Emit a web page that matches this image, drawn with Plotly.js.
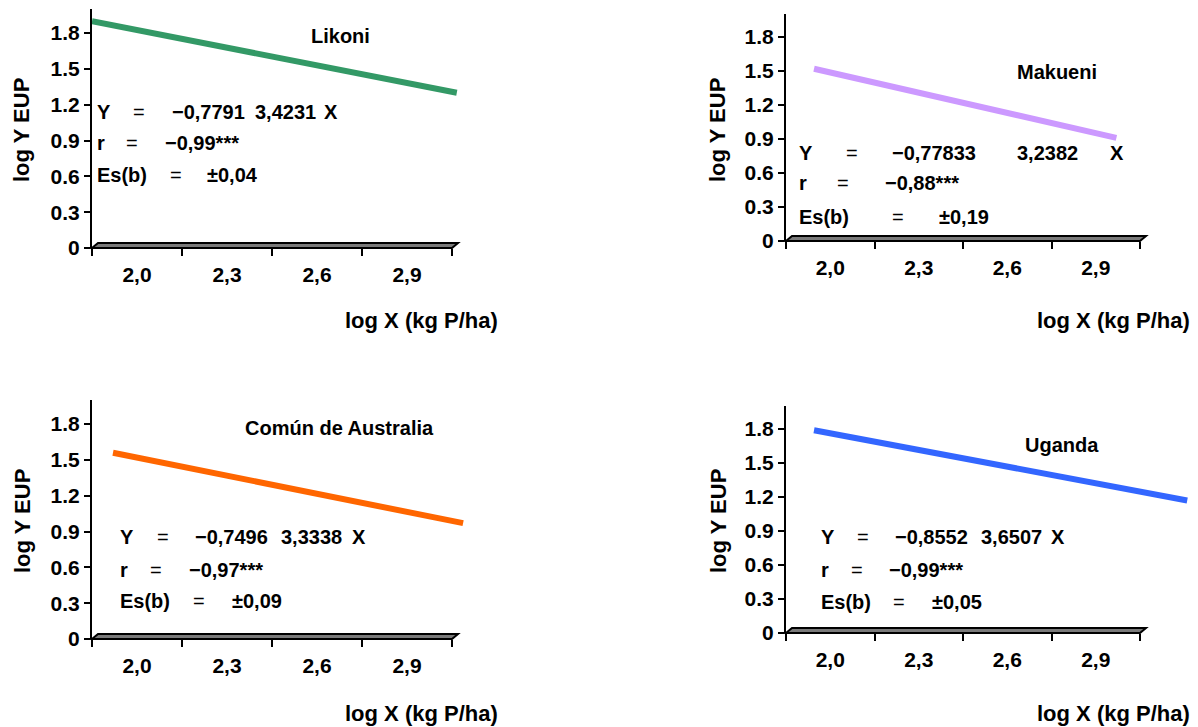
<!DOCTYPE html>
<html>
<head>
<meta charset="utf-8">
<script src="https://cdn.plot.ly/plotly-3.0.1.min.js"></script>
<style>html,body{margin:0;padding:0;background:#fff}#chart{width:1198px;height:727px}</style>
</head>
<body>
<div id="chart"></div>
<script>
// ---------- DATA ----------
const panelNames = ['Likoni', 'Makueni', 'Común de Australia', 'Uganda'];
const xTickVals = [2.0, 2.3, 2.6, 2.9];
const xTickText = ['2,0', '2,3', '2,6', '2,9'];
const xBounds = [1.85, 2.15, 2.45, 2.75, 3.05];
const yTickVals = [0, 0.3, 0.6, 0.9, 1.2, 1.5, 1.8];
const yTickText = ['0', '0.3', '0.6', '0.9', '1.2', '1.5', '1.8'];
const likoniX = [1.85, 3.066];
const likoniY = [1.90, 1.30];
const makueniX = [1.945, 2.97];
const makueniY = [1.52, 0.91];
const comunX = [1.92, 3.087];
const comunY = [1.56, 0.97];
const ugandaX = [1.945, 3.21];
const ugandaY = [1.79, 1.17];
const eqIntercept = ['−0,7791', '−0,77833', '−0,7496', '−0,8552'];
const eqSlope = ['3,4231', '3,2382', '3,3338', '3,6507'];
const rValues = ['−0,99***', '−0,88***', '−0,97***', '−0,99***'];
const esValues = ['±0,04', '±0,19', '±0,09', '±0,05'];
const xTitle = 'log X (kg P/ha)';
const yTitle = 'log Y EUP';

// ---------- STYLE / LAYOUT ----------
const W = 1198, H = 727;
const px = v => v / W;
const py = v => 1 - v / H;
const FONT = 'Liberation Sans, Arial, sans-serif';
const colors = ['#339966', '#cc99ff', '#ff6600', '#3366ff'];
const lineXs = [likoniX, makueniX, comunX, ugandaX];
const lineYs = [likoniY, makueniY, comunY, ugandaY];
const geom = [
  {x0: 92,  zeroY: 248, pxX: 300, pxY: 119.4},
  {x0: 786, zeroY: 241, pxX: 295, pxY: 113.3},
  {x0: 92,  zeroY: 639, pxX: 300, pxY: 119.4},
  {x0: 786, zeroY: 633, pxX: 295, pxY: 113.3}
];
const yMax = 2.0;
const textPos = [
  {title: [341, 36], Y: [95, 112], eqY: 139, inter: 170, slope: 253, X: 322,
   r: [95, 143], eqR: 132, rv: 163, es: [95, 175], eqE: 176, ev: 205, xt: [421, 320], yt: [22, 130], xEnd: 690},
  {title: [1057, 72], Y: [797, 153], eqY: 852, inter: 890, slope: 1015, X: 1108,
   r: [797, 183], eqR: 843, rv: 883, es: [797, 217], eqE: 898, ev: 937, xt: [1113, 321], yt: [718, 130], xEnd: 1196},
  {title: [340, 428], Y: [118, 537], eqY: 163, inter: 193, slope: 279, X: 350,
   r: [118, 570], eqR: 156, rv: 187, es: [118, 601], eqE: 199, ev: 230, xt: [421, 713], yt: [22, 521], xEnd: 690},
  {title: [1062, 445], Y: [819, 537], eqY: 863, inter: 893, slope: 979, X: 1049,
   r: [819, 570], eqR: 857, rv: 887, es: [819, 602], eqE: 899, ev: 930, xt: [1113, 713], yt: [718, 521], xEnd: 1196}
];

const traces = [];
const layout = {
  width: W, height: H,
  margin: {l: 0, r: 0, t: 0, b: 0},
  paper_bgcolor: '#fff', plot_bgcolor: 'rgba(0,0,0,0)',
  showlegend: false,
  font: {family: FONT, color: '#000'},
  annotations: [], shapes: []
};

function ann(text, x, y, xanchor, size, bold, extra) {
  return Object.assign({
    text: text, xref: 'paper', yref: 'paper', x: px(x), y: py(y),
    xanchor: xanchor, yanchor: 'middle', showarrow: false,
    font: {family: FONT, size: size, color: '#000', weight: bold ? 700 : 400}
  }, extra || {});
}

for (let i = 0; i < 4; i++) {
  const g = geom[i];
  const t = textPos[i];
  const k = i + 1;
  const s = k === 1 ? '' : String(k);
  const xEndPx = g.x0 + (xBounds[4] - xBounds[0]) * g.pxX;
  const yTopPx = g.zeroY - yMax * g.pxY;
  const tickFont = {family: FONT, size: 21, color: '#000', weight: 700};

  layout['yaxis' + s] = {
    anchor: 'x' + s, domain: [py(g.zeroY), py(yTopPx)], range: [0, yMax],
    tickvals: yTickVals, ticktext: yTickText,
    ticks: 'outside', ticklen: 6, tickwidth: 2, tickcolor: '#000',
    showline: true, linewidth: 2, linecolor: '#000',
    showgrid: false, zeroline: false, tickfont: tickFont, fixedrange: true
  };
  layout['xaxis' + s] = {
    anchor: 'y' + s, domain: [px(g.x0), px(t.xEnd)],
    range: [xBounds[0], xBounds[0] + (t.xEnd - g.x0) / g.pxX],
    tickvals: xTickVals, ticktext: xTickText, ticks: '',
    minor: {tickmode: 'array', tickvals: xBounds, ticks: 'outside', ticklen: 7, tickwidth: 2, tickcolor: '#000', showgrid: false},
    showline: false, showgrid: false, zeroline: false,
    tickfont: tickFont, ticklabelstandoff: 12, fixedrange: true
  };

  traces.push({
    type: 'scatter', mode: 'lines',
    x: lineXs[i], y: lineYs[i],
    xaxis: 'x' + s, yaxis: 'y' + s,
    line: {color: colors[i], width: 6},
    hoverinfo: 'skip'
  });

  // 3D floor at y = 0
  const d = 6, h = 5;
  const b = g.zeroY;
  const path = 'M' + px(g.x0) + ',' + py(b) +
               ' L' + px(g.x0 + d) + ',' + py(b - h) +
               ' L' + px(xEndPx + d) + ',' + py(b - h) +
               ' L' + px(xEndPx) + ',' + py(b) + ' Z';
  layout.shapes.push({type: 'path', xref: 'paper', yref: 'paper', path: path,
    fillcolor: '#7a7a7a', line: {color: '#000', width: 2}, layer: 'above'});

  layout.annotations.push(ann(panelNames[i], t.title[0], t.title[1], 'center', 20, true));
  layout.annotations.push(ann('Y', t.Y[0], t.Y[1], 'left', 20, true));
  layout.annotations.push(ann('=', t.eqY, t.Y[1], 'center', 20, false));
  layout.annotations.push(ann(eqIntercept[i], t.inter, t.Y[1], 'left', 20, true));
  layout.annotations.push(ann(eqSlope[i], t.slope, t.Y[1], 'left', 20, true));
  layout.annotations.push(ann('X', t.X, t.Y[1], 'left', 20, true));
  layout.annotations.push(ann('r', t.r[0], t.r[1], 'left', 20, true));
  layout.annotations.push(ann('=', t.eqR, t.r[1], 'center', 20, false));
  layout.annotations.push(ann(rValues[i], t.rv, t.r[1], 'left', 20, true));
  layout.annotations.push(ann('Es(b)', t.es[0], t.es[1], 'left', 20, true));
  layout.annotations.push(ann('=', t.eqE, t.es[1], 'center', 20, false));
  layout.annotations.push(ann(esValues[i], t.ev, t.es[1], 'left', 20, true));
  layout.annotations.push(ann(xTitle, t.xt[0], t.xt[1], 'center', 22, true));
  layout.annotations.push(ann(yTitle, t.yt[0], t.yt[1], 'center', 22, true, {textangle: -90}));
}

Plotly.newPlot('chart', traces, layout, {displayModeBar: false, staticPlot: true});
</script>
</body>
</html>
